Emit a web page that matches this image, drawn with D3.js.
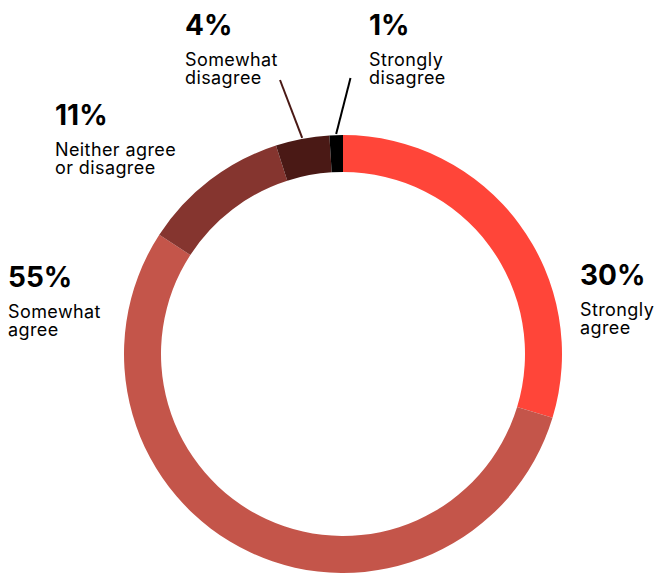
<!DOCTYPE html>
<html>
<head>
<meta charset="utf-8">
<script src="https://cdn.jsdelivr.net/npm/d3@7"></script>
<style>
  html, body { margin: 0; padding: 0; background: #ffffff; }
  svg { display: block; }
  .pct { font-family: Inter, "Noto Sans", sans-serif; font-weight: 700; font-size: 28px; fill: #000; }
  .lbl { font-family: Inter, "Noto Sans", sans-serif; font-weight: 400; font-size: 18px; letter-spacing: 0.4px; fill: #000; }
</style>
</head>
<body>
<svg id="chart" width="657" height="573"></svg>
<script>
// Survey responses, in clockwise order from 12 o'clock
const categories = ["Strongly agree", "Somewhat agree", "Neither agree or disagree", "Somewhat disagree", "Strongly disagree"];
const values = [30, 55, 11, 4, 1];
const labelLines = [["Strongly", "agree"], ["Somewhat", "agree"], ["Neither agree", "or disagree"], ["Somewhat", "disagree"], ["Strongly", "disagree"]];
const colors = ["#ff4539", "#c4554a", "#85352f", "#4a1915", "#000000"];

// Label anchors (left edge, baseline of the percentage) and leader-line ends
const labelPos = [
  { x: 580, y: 285 },
  { x: 8,   y: 287 },
  { x: 55,  y: 125 },
  { x: 185, y: 35 },
  { x: 369, y: 35 }
];
const leaderEnds = [null, null, null, { x: 280, y: 80 }, { x: 350.5, y: 78 }];

const cx = 343, cy = 354, outerR = 219, innerR = 182;

const svg = d3.select("#chart");
const g = svg.append("g").attr("transform", `translate(${cx},${cy})`);

const pie = d3.pie().sort(null).value(d => d)(values);
const arc = d3.arc().innerRadius(innerR).outerRadius(outerR);

g.selectAll("path.slice")
  .data(pie)
  .join("path")
  .attr("class", "slice")
  .attr("d", arc)
  .attr("fill", (d, i) => colors[i]);

// Leader lines for the thin slices
pie.forEach((d, i) => {
  const end = leaderEnds[i];
  if (!end) return;
  const a = (d.startAngle + d.endAngle) / 2;
  const r0 = outerR + 1;
  svg.append("line")
    .attr("x1", cx + r0 * Math.sin(a))
    .attr("y1", cy - r0 * Math.cos(a))
    .attr("x2", end.x)
    .attr("y2", end.y)
    .attr("stroke", colors[i])
    .attr("stroke-width", 2);
});

// Percentages and category names
categories.forEach((c, i) => {
  const p = labelPos[i];
  svg.append("text")
    .attr("class", "pct")
    .attr("x", p.x)
    .attr("y", p.y)
    .text(values[i] + "%");
  labelLines[i].forEach((line, k) => {
    svg.append("text")
      .attr("class", "lbl")
      .attr("x", p.x)
      .attr("y", p.y + 31 + k * 17.5)
      .text(line);
  });
});
</script>
</body>
</html>
